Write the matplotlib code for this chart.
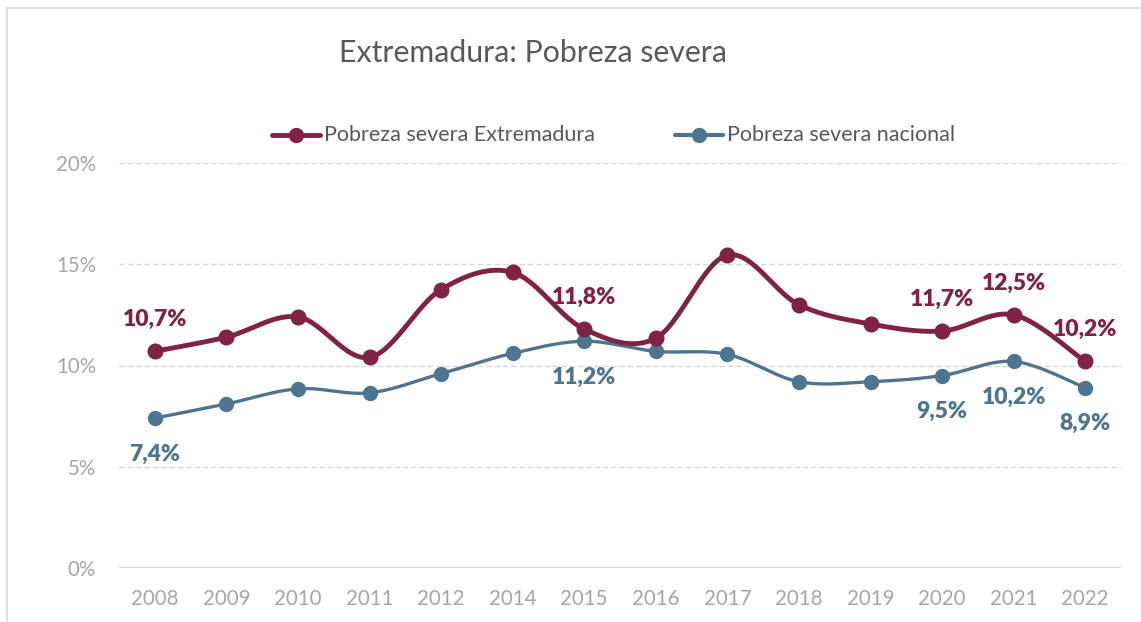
import matplotlib
matplotlib.use("Agg")
import matplotlib.pyplot as plt
import numpy as np
from matplotlib.lines import Line2D

years = ["2008", "2009", "2010", "2011", "2012", "2014", "2015", "2016",
         "2017", "2018", "2019", "2020", "2021", "2022"]
extremadura = [10.7, 11.4, 12.4, 10.4, 13.75, 14.6, 11.8, 11.35,
               15.45, 13.0, 12.05, 11.7, 12.5, 10.2]
nacional = [7.4, 8.1, 8.85, 8.65, 9.6, 10.6, 11.2, 10.7,
            10.55, 9.2, 9.2, 9.5, 10.2, 8.9]
yticks = [0, 5, 10, 15, 20]
labels_ext = {0: "10,7%", 6: "11,8%", 11: "11,7%", 12: "12,5%", 13: "10,2%"}
labels_nac = {0: "7,4%", 6: "11,2%", 11: "9,5%", 12: "10,2%", 13: "8,9%"}

RED = "#7f2245"
BLUE = "#4e7590"
GRID = "#d9d9d9"
TXT = "#a6a6a6"
TITLE = "#595959"

plt.rcParams['font.family'] = ['Lato', 'DejaVu Sans']

W, H = 1141, 622
fig = plt.figure(figsize=(W / 100, H / 100), dpi=100)
ax = fig.add_axes([119 / W, 1 - 568 / H, 1002 / W, 405 / H])


def smooth(y, n=30):
    y = np.asarray(y, float)
    x = np.arange(len(y), dtype=float)
    P = np.column_stack([x, y])
    out = []
    for i in range(len(P) - 1):
        p0 = P[i - 1] if i > 0 else P[i]
        p1 = P[i]
        p2 = P[i + 1]
        p3 = P[i + 2] if i + 2 < len(P) else P[i + 1]
        c1 = p1 + (p2 - p0) / 6
        c2 = p2 - (p3 - p1) / 6
        t = np.linspace(0, 1, n)[:, None]
        seg = ((1 - t) ** 3) * p1 + 3 * ((1 - t) ** 2) * t * c1 + 3 * (1 - t) * t ** 2 * c2 + t ** 3 * p2
        out.append(seg if i == 0 else seg[1:])
    s = np.vstack(out)
    return s[:, 0], s[:, 1]


x = np.arange(len(years))
for yv, col, lw, ms in [(nacional, BLUE, 2.4, 10), (extremadura, RED, 3.5, 10.5)]:
    sx, sy = smooth(yv)
    ax.plot(sx, sy, color=col, lw=lw, solid_capstyle='round', zorder=3)
    ax.plot(x, yv, 'o', color=col, ms=ms, zorder=4)

ax.set_xlim(-0.5, len(years) - 0.5)
ax.set_ylim(0, 20)
ax.set_yticks(yticks)
ax.set_yticklabels([f"{v}%" for v in yticks])
ax.set_xticks(x)
ax.set_xticklabels(years)
ax.tick_params(axis='both', length=0, colors=TXT, labelsize=14.8)
ax.tick_params(axis='y', pad=16.5)
ax.tick_params(axis='x', pad=15)
for s in ax.spines.values():
    s.set_visible(False)
for v in yticks[1:]:
    ax.axhline(v, color=GRID, lw=1, ls=(0, (4, 2)), zorder=1)
ax.axhline(0, color=GRID, lw=2.2, zorder=1)

for i, t in labels_ext.items():
    ax.annotate(t, (x[i], extremadura[i]), xytext=(0, 23), textcoords='offset points',
                ha='center', va='center', color=RED, fontsize=16.5, fontweight='heavy', zorder=5)
for i, t in labels_nac.items():
    ax.annotate(t, (x[i], nacional[i]), xytext=(0, -26), textcoords='offset points',
                ha='center', va='center', color=BLUE, fontsize=16.5, fontweight='heavy', zorder=5)

fig.text(533 / W, 1 - 53 / H, "Extremadura: Pobreza severa", ha='center', va='center',
         fontsize=21.8, color=TITLE)

# legend
for x0, col, lab in [(272, RED, "Pobreza severa Extremadura"), (675, BLUE, "Pobreza severa nacional")]:
    ly = 1 - 135 / H
    fig.add_artist(Line2D([x0 / W, (x0 + 48) / W], [ly, ly], color=col,
                          lw=3.5 if col == RED else 3.0, solid_capstyle='round'))
    fig.add_artist(Line2D([(x0 + 24) / W], [ly], marker='o', color=col, ms=10))
    fig.text((x0 + 52) / W, ly, lab, ha='left', va='center', fontsize=15.5, color=TITLE)

# chart frame
fig.add_artist(Line2D([7 / W, 7 / W], [0, 1 - 8 / H], color=GRID, lw=1.2))
fig.add_artist(Line2D([7 / W, 1], [1 - 8 / H, 1 - 8 / H], color=GRID, lw=1.2))

fig.savefig("out.png", dpi=100)
